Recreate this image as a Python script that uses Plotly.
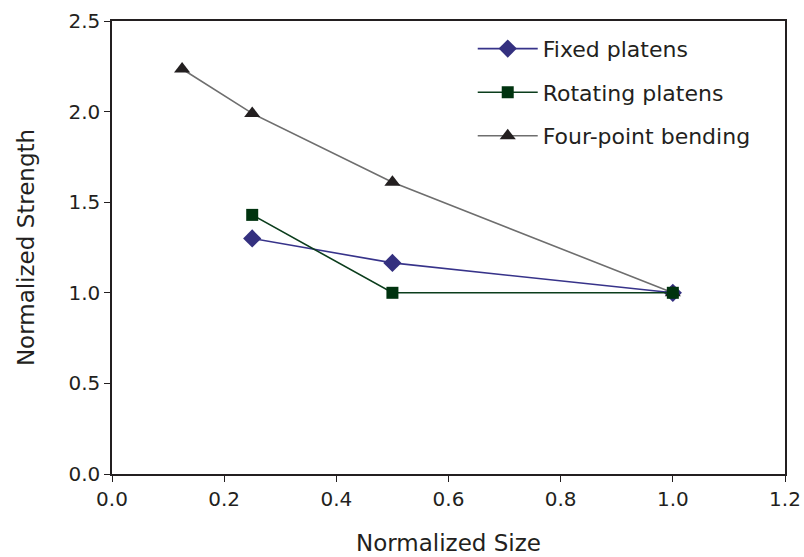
import plotly.graph_objects as go

# Normalized specimen size vs. normalized strength for three test methods
fixed_size = [0.25, 0.5, 1.0]
fixed_strength = [1.30, 1.165, 1.0]

rotating_size = [0.25, 0.5, 1.0]
rotating_strength = [1.43, 1.0, 1.0]

bending_size = [0.125, 0.25, 0.5, 1.0]
bending_strength = [2.235, 1.99, 1.61, 1.0]

x_ticks = [0.0, 0.2, 0.4, 0.6, 0.8, 1.0, 1.2]
y_ticks = [0.0, 0.5, 1.0, 1.5, 2.0, 2.5]

FONT = "DejaVu Sans, Liberation Sans, Arial, sans-serif"
INK = "#231f20"

fig = go.Figure()

fig.add_trace(go.Scatter(
    x=fixed_size, y=fixed_strength, name="Fixed platens",
    legendgroup="fixed", legendrank=1,
    mode="lines+markers",
    line=dict(color="#37338a", width=1.6),
    marker=dict(symbol="diamond", size=14, color="#34307f"),
))
fig.add_trace(go.Scatter(
    x=bending_size, y=bending_strength, name="Four-point bending",
    legendgroup="bending", legendrank=3,
    mode="lines+markers",
    line=dict(color="#6e6e6e", width=1.6),
    marker=dict(symbol="triangle-up", size=14, color=INK),
))
fig.add_trace(go.Scatter(
    x=rotating_size, y=rotating_strength, name="Rotating platens",
    legendgroup="rotating", legendrank=2,
    mode="lines+markers",
    line=dict(color="#0b3d1c", width=1.6),
    marker=dict(symbol="square", size=12, color="#00330f"),
))

fig.update_layout(
    width=804, height=557,
    margin=dict(l=112, r=19, t=21, b=83),
    paper_bgcolor="white", plot_bgcolor="white",
    font=dict(family=FONT, color=INK, size=20),
    showlegend=True,
    legend=dict(
        x=0.536, y=0.985, xanchor="left", yanchor="top",
        font=dict(size=22, family=FONT, color=INK),
        traceorder="grouped", tracegroupgap=12,
        bgcolor="rgba(0,0,0,0)", itemwidth=60,
    ),
    xaxis=dict(
        range=[0, 1.2], tickvals=x_ticks,
        ticktext=[f"{v:.1f}" for v in x_ticks],
        ticks="outside", ticklen=6, tickwidth=1.2, tickcolor=INK,
        showline=True, linecolor=INK, linewidth=1.5, mirror=True,
        showgrid=False, zeroline=False, automargin=False,
        title=dict(text="Normalized Size", font=dict(size=23), standoff=25),
        tickfont=dict(size=20),
    ),
    yaxis=dict(
        range=[0, 2.5], tickvals=y_ticks,
        ticktext=[f"{v:.1f}" for v in y_ticks],
        ticks="outside", ticklen=6, tickwidth=1.2, tickcolor=INK,
        showline=True, linecolor=INK, linewidth=1.5, mirror=True,
        showgrid=False, zeroline=False, automargin=False,
        title=dict(text="Normalized Strength", font=dict(size=23), standoff=27),
        tickfont=dict(size=20),
    ),
)

fig.write_html("out.html")
